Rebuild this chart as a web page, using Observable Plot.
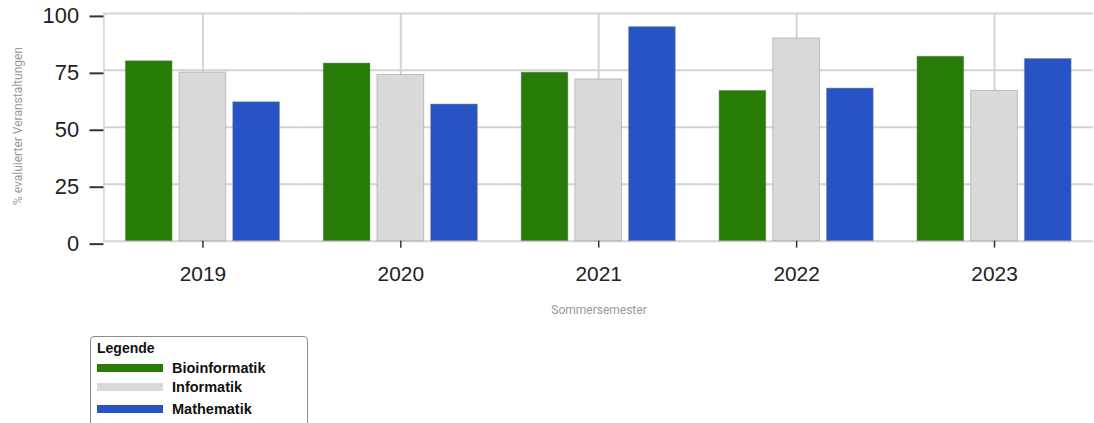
<!DOCTYPE html>
<html>
<head>
<meta charset="utf-8">
<script src="https://cdn.jsdelivr.net/npm/d3@7"></script>
<script src="https://cdn.jsdelivr.net/npm/@observablehq/plot@0.6"></script>
<style>
  html, body { margin: 0; padding: 0; background: #fff; overflow: hidden; }
  #wrap { position: relative; width: 1094px; height: 423px; overflow: hidden; }
  .axlabel { position: absolute; font-family: Roboto, "Liberation Sans", sans-serif; font-size: 12px; color: #9a9a9a; white-space: nowrap; }
  #ylab { left: 18px; top: 126px; transform: translate(-50%, -50%) rotate(-90deg); }
  #xlab { left: 599px; top: 310px; transform: translate(-50%, -50%); }
  #legend { position: absolute; left: 90px; top: 336px; width: 218px; height: 110px; border: 1px solid #8a8a8a; border-radius: 4px; font-family: "Liberation Sans", Arial, sans-serif; color: #111; box-sizing: border-box; }
  #legend .title { position: absolute; left: 6px; top: 3px; font-weight: bold; font-size: 14px; }
  #legend .item { position: absolute; left: 6px; height: 18px; display: flex; align-items: center; }
  #legend .sw { width: 66px; height: 8px; margin-right: 9px; }
  #legend .lab { font-weight: bold; font-size: 14.5px; }
</style>
</head>
<body>
<div id="wrap">
  <div id="chart"></div>
  <div id="ylab" class="axlabel">% evaluierter Veranstaltungen</div>
  <div id="xlab" class="axlabel">Sommersemester</div>
  <div id="legend"></div>
</div>
<script>
const years = ["2019", "2020", "2021", "2022", "2023"];
const subjects = ["Bioinformatik", "Informatik", "Mathematik"];
const colors = ["#267c06", "#d9d9d9", "#2753c4"];
const bioinformatik = [79, 78, 74, 66, 81];
const informatik = [74, 73, 71, 89, 66];
const mathematik = [61, 60, 94, 67, 80];
const yTicks = [0, 25, 50, 75, 100];
const legendTitle = "Legende";

const series = [bioinformatik, informatik, mathematik];
const data = [];
years.forEach((yr, i) => subjects.forEach((s, j) => data.push({year: yr, subject: s, value: series[j][i]})));

const chart = Plot.plot({
  width: 1100,
  height: 325,
  marginLeft: 102,
  marginRight: 0,
  marginTop: 13,
  marginBottom: 83,
  style: {fontFamily: "'Liberation Sans', Arial, sans-serif", color: "#222", background: "transparent"},
  fx: {domain: years, padding: 0, label: null, axis: null},
  x: {domain: subjects, paddingInner: 0.127, paddingOuter: 0.373, axis: null},
  y: {domain: [0, 100], label: null, axis: null},
  color: {domain: subjects, range: colors},
  marks: [
    Plot.gridY({ticks: yTicks, stroke: "#d3d3d3", strokeOpacity: 1, strokeWidth: 2}),
    Plot.frame({anchor: "left", facetAnchor: "left", stroke: "#d3d3d3", strokeWidth: 1.5}),
    Plot.ruleX([subjects[1]], {stroke: "#d3d3d3", strokeWidth: 2}),
    Plot.barY(data, {fx: "year", x: "subject", y: "value", fill: "subject", stroke: "#888", strokeOpacity: 0.45, strokeWidth: 1}),
    Plot.axisY({ticks: yTicks, tickSize: 14, tickPadding: 11, fontSize: 22, dy: 3, label: null, stroke: "#333", strokeWidth: 2}),
    Plot.axisFx({anchor: "bottom", tickSize: 7, tickPadding: 18, fontSize: 21, label: null, stroke: "#333", strokeWidth: 1.5})
  ]
});
document.getElementById("chart").appendChild(chart);

const legend = document.getElementById("legend");
const t = document.createElement("div");
t.className = "title";
t.textContent = legendTitle;
legend.appendChild(t);
const tops = [22, 41, 63];
subjects.forEach((s, i) => {
  const it = document.createElement("div");
  it.className = "item";
  it.style.top = tops[i] + "px";
  const sw = document.createElement("div");
  sw.className = "sw";
  sw.style.background = colors[i];
  const lab = document.createElement("span");
  lab.className = "lab";
  lab.textContent = s;
  it.appendChild(sw);
  it.appendChild(lab);
  legend.appendChild(it);
});
</script>
</body>
</html>
